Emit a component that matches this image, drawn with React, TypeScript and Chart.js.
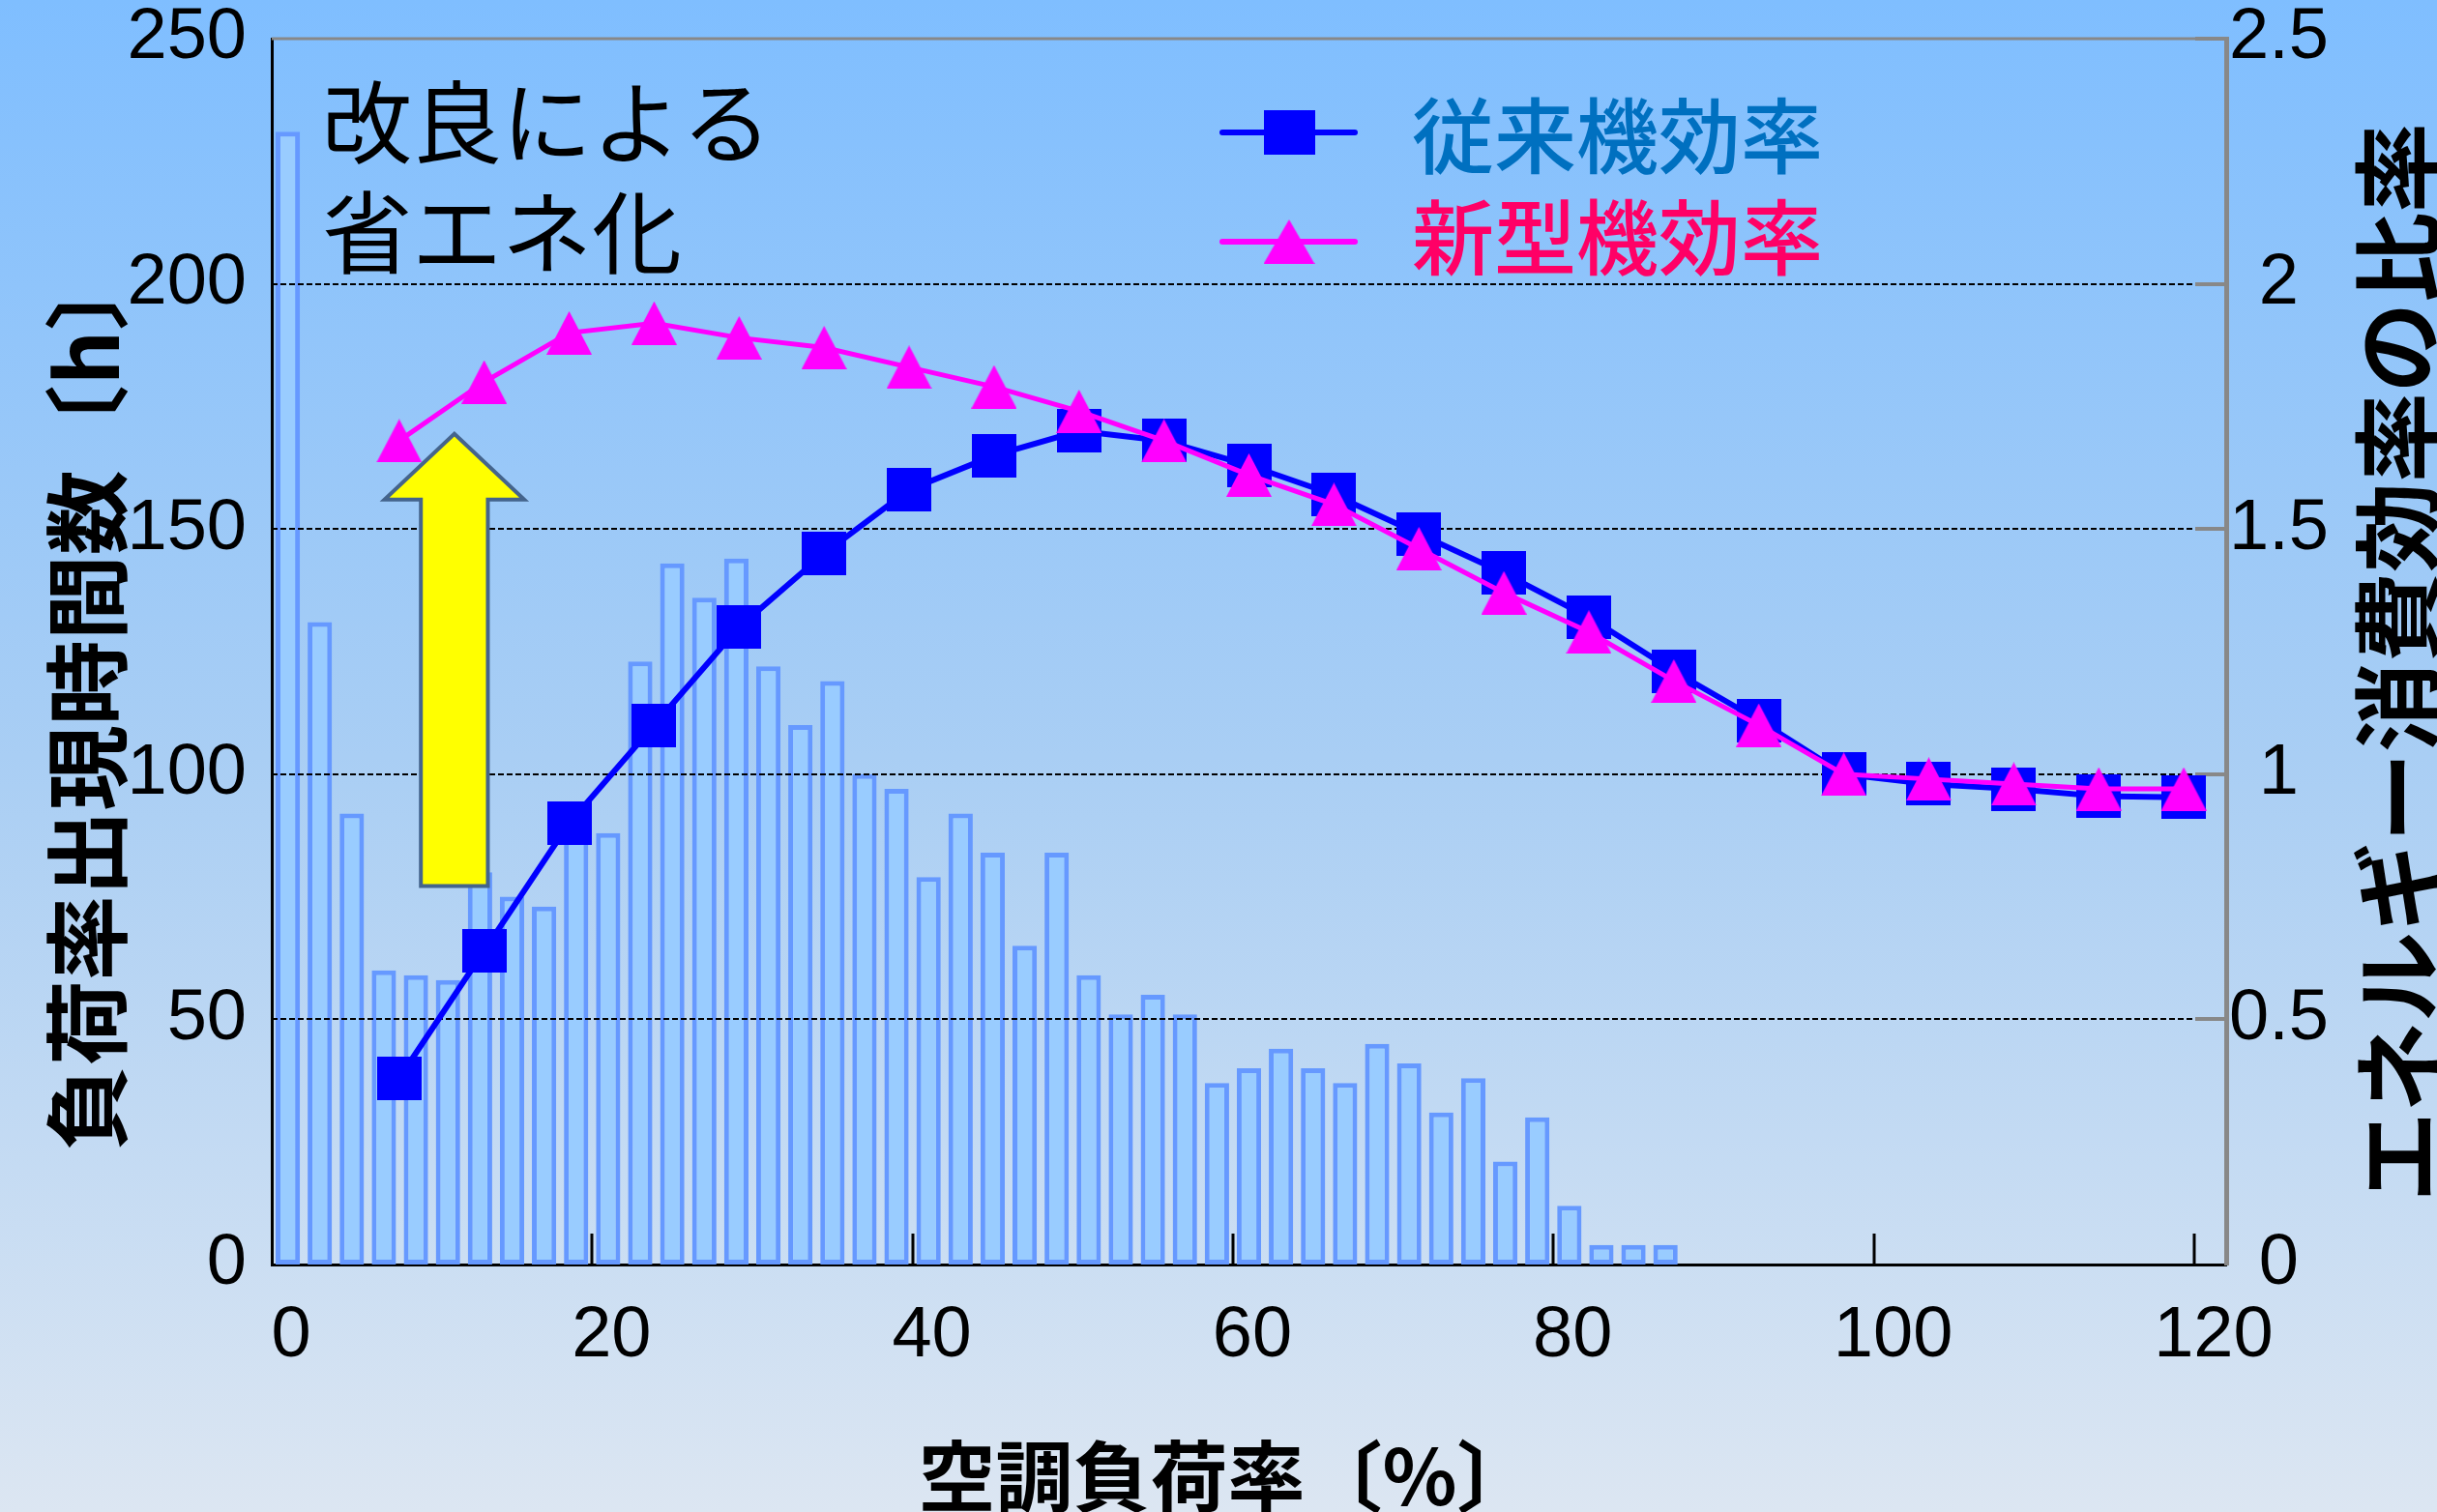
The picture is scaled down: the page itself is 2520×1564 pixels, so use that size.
import React, { useEffect, useRef } from 'react';
import { Chart, registerables } from 'chart.js';

Chart.register(...registerables);

// ---- data ----
const loadRates = [1, 3, 5, 7, 9, 11, 13, 15, 17, 19, 21, 23, 25, 27, 29, 31, 33, 35, 37, 39, 41, 43, 45, 47, 49, 51, 53, 55, 57, 59, 61, 63, 65, 67, 69, 71, 73, 75, 77, 79, 81, 83, 85, 87];
const hours = [231, 131, 92, 60, 59, 58, 80, 75, 73, 88, 88, 123, 143, 136, 144, 122, 110, 119, 100, 97, 79, 92, 84, 65, 84, 59, 51, 55, 51, 37, 40, 44, 40, 37, 45, 41, 31, 38, 21, 30, 12, 4, 4, 4];
const effLoads = [5, 10, 15, 20, 25, 30, 35, 40, 45, 50, 55, 60, 65, 70, 75, 80, 85, 90, 95, 100, 105, 110];
const convEff = [0.38, 0.64, 0.9, 1.1, 1.3, 1.45, 1.58, 1.65, 1.7, 1.68, 1.63, 1.57, 1.49, 1.41, 1.32, 1.21, 1.11, 1.0, 0.98, 0.97, 0.955, 0.953];
const newEff = [1.68, 1.8, 1.9, 1.92, 1.89, 1.87, 1.83, 1.79, 1.74, 1.68, 1.61, 1.55, 1.46, 1.37, 1.29, 1.19, 1.1, 1.0, 0.99, 0.98, 0.97, 0.97];
const seriesLabels = ['従来機効率', '新型機効率'];
const barLabel = '負荷率出現時間数';
const yLeftTitle = '負荷率出現時間数〔h〕';
const yRightTitle = 'エネルギー消費効率の比率';
const xTitle = '空調負荷率〔%〕';
const noteLines = ['改良による', '省エネ化'];

// ---- styles ----
const lineColors = ['#0000FF', '#FF00FF'];
const legendTextColors = ['#0070C0', '#FF0066'];
const FONT_NUM = '"Liberation Sans", Arial, sans-serif';
const FONT_JP = '"Noto Sans CJK JP", "Noto Sans", sans-serif';
const arrowSpec = { x: 11.4, headHalf: 4.36, shaftHalf: 2.09, tip: 169.4, headBase: 156, tail: 77.2 };

function makeMarker(shape: string, w: number, h: number, color: string) {
  const c = document.createElement('canvas');
  c.width = w;
  c.height = h;
  const g = c.getContext('2d')!;
  g.fillStyle = color;
  if (shape === 'square') {
    g.fillRect(0, 0, w, h);
  } else {
    g.beginPath();
    g.moveTo(w / 2, 0);
    g.lineTo(w, h);
    g.lineTo(0, h);
    g.closePath();
    g.fill();
  }
  return c;
}

export default function App() {
  const ref = useRef<HTMLCanvasElement>(null);

  useEffect(() => {
    const canvas = ref.current!;
    const sq = makeMarker('square', 46, 45, lineColors[0]);
    const tri = makeMarker('triangle', 47, 45, lineColors[1]);
    const legSq = makeMarker('square', 53, 46, lineColors[0]);
    const legTri = makeMarker('triangle', 53, 46, lineColors[1]);
    const legendMarkers = [legSq, legTri];

    const decor = {
      id: 'decor',
      afterDatasetDraw(chart: any, args: any) {
        if (args.index !== 0) return;
        const { ctx, chartArea: a } = chart;
        const x = chart.scales.x, y = chart.scales.y, y2 = chart.scales.y2;
        ctx.save();
        // dashed horizontal grid
        ctx.strokeStyle = '#000';
        ctx.lineWidth = 2;
        ctx.setLineDash([6, 3]);
        for (const t of y.ticks) {
          if (t.value <= y.min || t.value >= y.max) continue;
          const py = Math.round(y.getPixelForValue(t.value));
          ctx.beginPath();
          ctx.moveTo(a.left, py);
          ctx.lineTo(a.right, py);
          ctx.stroke();
        }
        ctx.setLineDash([]);
        // inward x ticks
        ctx.lineWidth = 3;
        for (const t of x.ticks) {
          if (t.value <= x.min) continue;
          const px = Math.round(x.getPixelForValue(t.value));
          ctx.beginPath();
          ctx.moveTo(px, a.bottom);
          ctx.lineTo(px, a.bottom - 32);
          ctx.stroke();
        }
        // inward right ticks
        ctx.strokeStyle = '#888';
        ctx.lineWidth = 4;
        for (const t of y2.ticks) {
          if (t.value <= y2.min) continue;
          const py = Math.round(y2.getPixelForValue(t.value));
          ctx.beginPath();
          ctx.moveTo(a.right - 32, py);
          ctx.lineTo(a.right, py);
          ctx.stroke();
        }
        // top border
        ctx.lineWidth = 3;
        ctx.beginPath();
        ctx.moveTo(a.left, a.top);
        ctx.lineTo(a.right, a.top);
        ctx.stroke();
        // arrow
        const cx = x.getPixelForValue(arrowSpec.x);
        const hw = x.getPixelForValue(arrowSpec.x + arrowSpec.headHalf) - cx;
        const sw = x.getPixelForValue(arrowSpec.x + arrowSpec.shaftHalf) - cx;
        const tip = y.getPixelForValue(arrowSpec.tip);
        const base = y.getPixelForValue(arrowSpec.headBase);
        const tail = y.getPixelForValue(arrowSpec.tail);
        ctx.beginPath();
        ctx.moveTo(cx, tip);
        ctx.lineTo(cx + hw, base);
        ctx.lineTo(cx + sw, base);
        ctx.lineTo(cx + sw, tail);
        ctx.lineTo(cx - sw, tail);
        ctx.lineTo(cx - sw, base);
        ctx.lineTo(cx - hw, base);
        ctx.closePath();
        ctx.fillStyle = '#FFFF00';
        ctx.fill();
        ctx.strokeStyle = '#44648C';
        ctx.lineWidth = 4;
        ctx.lineJoin = 'miter';
        ctx.stroke();
        ctx.restore();
      },
      afterDraw(chart: any) {
        const { ctx } = chart;
        ctx.save();
        // legend
        const rowLineY = [137, 250];
        const rowTextY = [141, 246];
        chart.data.datasets.slice(1).forEach((ds: any, i: number) => {
          ctx.strokeStyle = ds.borderColor;
          ctx.lineWidth = 6;
          ctx.lineCap = 'round';
          ctx.beginPath();
          ctx.moveTo(1264, rowLineY[i]);
          ctx.lineTo(1401, rowLineY[i]);
          ctx.stroke();
          const m = legendMarkers[i];
          ctx.drawImage(m, 1333 - m.width / 2, rowLineY[i] - m.height / 2);
          ctx.fillStyle = legendTextColors[i];
          ctx.font = `500 85px ${FONT_JP}`;
          ctx.textAlign = 'left';
          ctx.textBaseline = 'middle';
          ctx.fillText(ds.label, 1460, rowTextY[i]);
        });
        // note
        ctx.fillStyle = '#000';
        ctx.font = `400 93px ${FONT_JP}`;
        ctx.textAlign = 'left';
        ctx.textBaseline = 'middle';
        ctx.fillText(noteLines[0], 333, 127);
        ctx.fillText(noteLines[1], 333, 241);
        // axis titles
        ctx.textAlign = 'center';
        ctx.font = `700 88px ${FONT_JP}`;
        ctx.save();
        ctx.translate(90, 722);
        ctx.rotate(-Math.PI / 2);
        ctx.fillText(yLeftTitle, 0, 0);
        ctx.restore();
        ctx.font = `700 93px ${FONT_JP}`;
        ctx.save();
        ctx.translate(2480, 685);
        ctx.rotate(-Math.PI / 2);
        ctx.fillText(yRightTitle, 0, 0);
        ctx.restore();
        ctx.font = `700 80px ${FONT_JP}`;
        ctx.fillText(xTitle, 1268, 1527);
        ctx.restore();
      },
    };

    const tickFont = { family: FONT_NUM, size: 74 };

    const chart = new Chart(canvas, {
      type: 'bar',
      data: {
        datasets: [
          {
            type: 'bar',
            label: barLabel,
            data: loadRates.map((v, i) => ({ x: v, y: hours[i] })),
            xAxisID: 'x',
            yAxisID: 'y',
            backgroundColor: '#99CCFF',
            borderColor: '#6699FF',
            borderWidth: 5,
            borderSkipped: false,
            grouped: false,
            barPercentage: 0.76,
            categoryPercentage: 1,
            order: 3,
          } as any,
          {
            type: 'line',
            label: seriesLabels[0],
            data: effLoads.map((v, i) => ({ x: v, y: convEff[i] })),
            xAxisID: 'x2',
            yAxisID: 'y2',
            borderColor: lineColors[0],
            backgroundColor: lineColors[0],
            borderWidth: 6,
            tension: 0,
            fill: false,
            pointStyle: sq,
            pointRadius: 23,
            order: 2,
          } as any,
          {
            type: 'line',
            label: seriesLabels[1],
            data: effLoads.map((v, i) => ({ x: v, y: newEff[i] })),
            xAxisID: 'x2',
            yAxisID: 'y2',
            borderColor: lineColors[1],
            backgroundColor: lineColors[1],
            borderWidth: 5,
            tension: 0,
            fill: false,
            pointStyle: tri,
            pointRadius: 23,
            order: 1,
          } as any,
        ],
      },
      options: {
        responsive: false,
        maintainAspectRatio: false,
        animation: false,
        devicePixelRatio: 1,
        layout: { padding: { top: 40, left: 0, right: 0, bottom: 0 } },
        plugins: { legend: { display: false }, tooltip: { enabled: false } },
        scales: {
          x: {
            type: 'linear',
            position: 'bottom',
            offset: false,
            min: 0,
            max: 122,
            afterFit: (s: any) => { s.height = 256; s.paddingLeft = 0; s.paddingRight = 0; },
            grid: { display: false, drawTicks: false, offset: false },
            border: { display: true, color: '#000', width: 3 },
            ticks: { stepSize: 20, includeBounds: false, autoSkip: false, maxRotation: 0, padding: 30, labelOffset: 20, font: tickFont, color: '#000' },
          },
          x2: { type: 'linear', offset: false, min: -2.5, max: 112.5, display: false },
          y: {
            type: 'linear',
            position: 'left',
            min: 0,
            max: 250,
            afterFit: (s: any) => { s.width = 281; s.paddingTop = 0; s.paddingBottom = 0; },
            grid: { display: false, drawTicks: false },
            border: { display: true, color: '#000', width: 3 },
            ticks: { stepSize: 50, padding: 26, font: tickFont, color: '#000' },
          },
          y2: {
            type: 'linear',
            position: 'right',
            min: 0,
            max: 2.5,
            afterFit: (s: any) => { s.width = 218; s.paddingTop = 0; s.paddingBottom = 0; },
            grid: { display: false, drawTicks: false },
            border: { display: true, color: '#888', width: 5 },
            ticks: { stepSize: 0.5, padding: 3, crossAlign: 'center', font: tickFont, color: '#000', callback: (v: any) => `${v}` },
          },
        },
      } as any,
      plugins: [decor],
    });
    return () => chart.destroy();
  }, []);

  return (
    <div
      style={{
        position: 'fixed',
        left: 0,
        top: 0,
        width: 2520,
        height: 1564,
        background: 'linear-gradient(to bottom, #7FBEFF 0%, #A9CEF4 50%, #DCE6F2 100%)',
      }}
    >
      <canvas ref={ref} width={2520} height={1564} style={{ display: 'block', width: 2520, height: 1564 }} />
    </div>
  );
}
